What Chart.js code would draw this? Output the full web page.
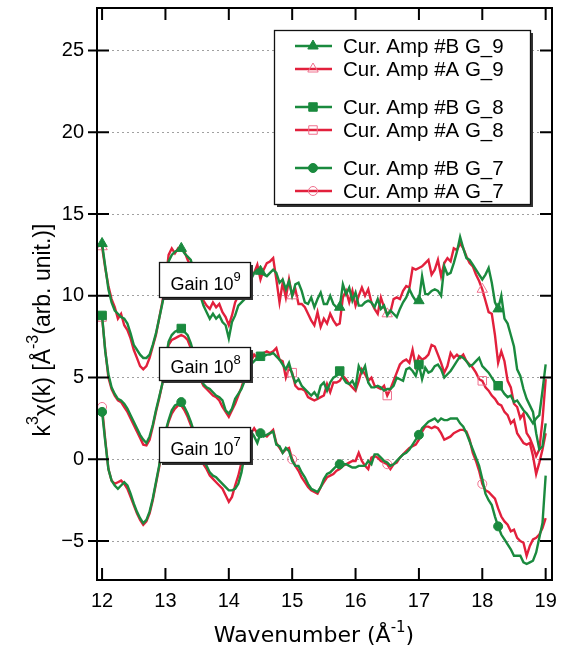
<!DOCTYPE html>
<html>
<head>
<meta charset="utf-8">
<script src="https://cdn.jsdelivr.net/npm/chart.js@4.4.0/dist/chart.umd.min.js"></script>
<style>
  html, body { margin: 0; padding: 0; background: #ffffff; }
</style>
</head>
<body>
<canvas id="chi" width="563" height="655"></canvas>
<script>
// wavenumber grid (1/A), 0.05 steps from 12 to 19
const kFirst = 12, kStep = 0.05, kCount = 141;
const kValues = [];
for (let i = 0; i < kCount; i++) kValues.push(+(kFirst + i * kStep).toFixed(2));

const xTickValues = [12, 13, 14, 15, 16, 17, 18, 19];
const yTickValues = [-5, 0, 5, 10, 15, 20, 25];

// k^3 chi(k)
const g9B = [
  13.2,11.8,10.4,9.6,9.1,8.9,8.7,8.6,8.3,7.7,7.0,6.7,6.4,6.2,6.2,6.4,7.0,7.7,8.6,9.5,
  10.5,12.1,12.5,12.7,12.8,12.9,12.6,12.4,12.2,11.5,10.8,10.0,9.4,9.0,8.6,8.9,8.6,8.8,8.4,8.2,
  7.4,8.4,8.8,9.4,9.6,9.8,10.6,11.0,11.4,11.6,11.5,11.3,11.2,11.4,11.6,11.4,10.8,11.0,10.4,10.9,
  10.0,10.7,10.8,10.3,9.6,9.5,9.9,9.3,9.8,10.2,9.5,9.5,10.0,9.5,9.3,9.3,10.7,10.1,10.5,9.7,
  10.2,9.4,9.4,9.6,9.7,9.6,9.3,9.8,9.2,9.4,8.8,9.1,8.9,8.7,9.2,9.6,9.9,10.4,10.0,9.7,
  9.7,11.2,10.1,10.1,10.3,10.4,10.3,10.0,11.8,11.3,11.4,12.0,12.7,13.6,12.9,12.3,12.2,11.9,11.6,11.3,
  11.0,11.3,11.7,10.8,9.6,9.2,10.0,8.6,8.3,7.6,6.9,5.5,5.1,4.3,3.7,3.3,2.9,1.6,0.6,0.8,
  2.2
];
const g9A = [
  13.0,11.7,10.6,9.8,9.3,8.6,8.9,8.2,7.9,7.4,6.7,6.2,5.7,5.5,5.7,6.2,6.9,7.6,8.6,9.6,
  10.8,12.5,12.9,12.6,12.9,12.8,12.7,12.2,11.8,11.2,10.6,10.0,9.7,9.4,9.2,9.6,9.3,9.5,9.0,8.7,
  8.2,8.8,9.6,10.0,10.2,10.8,11.0,11.3,11.4,11.9,11.0,11.6,12.0,12.1,12.3,11.0,9.6,10.8,9.9,11.0,
  10.0,10.4,9.5,9.5,9.3,8.9,8.5,8.2,9.0,8.1,8.6,8.3,8.9,8.5,8.2,8.3,9.9,10.3,9.6,10.3,
  9.4,10.0,10.5,10.0,10.4,9.6,9.2,8.9,9.9,9.3,8.9,9.0,9.8,9.9,9.8,10.3,10.6,10.5,11.7,11.6,
  11.7,11.8,12.0,12.2,11.3,11.6,12.2,11.2,12.0,12.3,12.1,12.9,12.8,13.2,12.9,12.4,12.0,11.8,11.3,10.9,
  10.4,9.7,9.0,8.9,7.6,5.9,6.6,6.0,4.8,4.4,3.4,3.2,2.5,2.8,1.6,1.3,0.8,0.2,0.6,2.4,
  4.9
];
const g8B = [
  8.8,6.6,5.2,4.4,4.0,3.7,3.6,3.4,3.1,2.7,2.3,1.9,1.5,1.2,1.0,1.4,2.1,3.0,3.8,4.6,
  6.0,7.2,7.6,7.8,7.9,8.0,7.8,7.6,7.1,6.4,5.7,5.0,4.6,4.4,4.3,4.1,3.9,3.8,3.6,3.0,
  2.8,3.1,3.7,4.0,4.3,4.8,5.5,5.8,6.0,6.2,6.3,6.3,6.4,6.4,6.5,6.3,6.1,5.8,5.5,5.9,
  5.2,4.7,4.9,4.5,4.3,4.1,3.9,4.1,3.8,4.5,4.7,4.2,4.7,5.0,5.1,5.4,5.0,4.7,4.6,4.8,
  4.4,5.7,5.3,5.7,4.7,4.4,4.4,4.5,4.4,4.2,4.3,4.3,4.5,5.0,4.9,4.8,5.5,5.6,5.4,5.1,
  5.8,4.9,5.6,5.3,5.4,5.7,5.8,5.5,5.0,5.2,5.4,5.7,6.0,6.3,6.2,6.0,5.7,5.8,6.0,6.2,
  5.7,5.5,5.3,5.0,4.7,4.5,4.3,4.0,3.8,3.9,3.5,3.6,3.3,3.0,2.8,2.5,2.2,2.5,2.7,4.2,
  5.8
];
const g8A = [
  8.7,6.7,5.0,4.3,3.9,3.6,3.5,3.2,2.9,2.5,2.1,1.7,1.3,0.9,0.85,1.2,2.0,2.9,3.7,4.6,
  6.0,7.0,7.3,7.4,7.5,7.6,7.5,7.3,6.8,6.2,5.5,4.9,4.5,4.3,4.1,3.9,3.8,3.6,3.2,2.9,
  2.6,3.0,3.4,3.9,4.4,5.0,5.6,6.0,6.4,6.2,6.4,6.5,6.6,6.5,6.6,6.8,6.1,6.0,5.0,5.6,
  5.3,4.5,4.3,4.3,4.2,3.8,3.7,3.6,3.7,3.8,3.9,4.6,4.1,4.7,4.7,4.8,5.1,4.9,4.6,4.4,
  4.2,4.8,5.5,5.2,4.8,5.0,4.5,4.4,4.3,4.5,3.9,4.3,4.8,5.3,5.8,6.0,6.1,5.9,6.7,5.7,
  6.3,6.1,6.2,6.4,7.0,6.9,6.4,5.9,5.3,5.7,6.5,6.2,6.4,6.2,6.4,6.0,5.8,5.6,5.3,4.9,
  4.8,4.4,4.2,3.9,3.7,3.4,3.3,2.9,2.7,2.2,2.4,1.6,1.3,1.0,0.9,1.0,0.2,-0.9,-0.2,0.6,
  1.6
];
const g7B = [
  2.9,1.1,-0.6,-1.3,-1.6,-1.8,-1.6,-1.4,-1.6,-2.1,-2.7,-3.2,-3.6,-3.9,-3.7,-3.2,-2.4,-1.4,-0.4,0.8,
  1.7,2.4,3.0,3.3,3.4,3.5,3.2,2.8,2.3,1.7,1.0,0.4,-0.1,-0.4,-0.8,-1.0,-1.1,-1.3,-1.5,-1.7,
  -1.9,-1.9,-1.8,-1.5,-0.8,0.3,1.3,1.7,1.4,1.0,1.6,1.4,1.5,1.6,1.7,0.9,0.8,0.4,0.7,0.5,
  -0.1,-0.4,-0.4,-0.8,-1.1,-1.5,-1.8,-1.9,-2.0,-1.7,-1.2,-0.9,-0.8,-0.6,-0.4,-0.3,-0.3,-0.3,-0.4,-0.5,
  -0.5,-0.4,-0.4,-0.4,-0.1,-0.3,0.3,0.3,0.1,-0.1,-0.2,-0.4,-0.3,-0.1,0.1,0.3,0.4,0.6,0.9,1.2,
  1.5,1.9,2.1,2.3,2.4,2.5,2.3,2.5,2.4,2.4,2.5,2.5,2.5,2.2,2.0,1.6,1.1,0.6,0.1,-0.4,
  -1.2,-2.1,-2.5,-2.8,-3.5,-4.1,-4.6,-4.9,-5.2,-5.5,-5.9,-5.9,-5.9,-6.3,-6.4,-6.3,-6.2,-5.7,-4.8,-3.9,
  -1.0
];
const g7A = [
  3.2,1.2,-0.6,-1.3,-1.5,-1.4,-1.3,-1.5,-1.8,-2.3,-2.8,-3.3,-3.7,-4.0,-3.8,-3.3,-2.5,-1.5,-0.5,0.7,
  1.6,2.3,2.8,3.1,3.3,3.3,3.0,2.6,2.1,1.5,0.9,0.3,-0.3,-0.6,-1.0,-1.2,-1.4,-1.6,-1.8,-2.2,
  -2.6,-2.3,-1.6,-1.0,-0.2,0.6,1.2,1.6,1.9,1.6,1.7,1.5,1.4,1.6,1.8,1.0,0.7,0.4,0.6,0.7,
  0.0,-0.4,-0.7,-1.1,-1.4,-1.7,-1.9,-2.0,-2.1,-1.7,-1.4,-1.1,-1.0,-0.9,-0.7,-0.6,-0.4,-0.3,-0.2,-0.1,
  -0.1,0.4,-0.1,-0.4,-0.6,0.1,0.2,0.1,-0.1,-0.2,-0.3,-0.6,-0.3,-0.2,0.1,0.3,0.5,0.7,0.8,0.9,
  1.2,1.7,2.0,2.0,1.9,2.0,1.9,1.6,1.2,1.3,1.4,1.6,1.7,1.8,1.8,1.7,1.2,0.4,-0.1,-0.7,
  -1.5,-1.9,-2.0,-2.2,-2.4,-3.0,-3.5,-3.8,-4.0,-4.4,-4.3,-4.8,-5.0,-5.1,-5.9,-5.3,-4.9,-4.8,-4.6,-4.2,
  -3.6
];

// where the markers sit on each trace
const markB = [12, 13.25, 14.5, 15.75, 17, 18.25];
const markA = [12, 13.5, 15, 16.5, 18];

const GREEN = '#1a8a3e';
const RED = '#e2203c';
const PINK = '#f0708e';

function toPoints(values) {
  return values.map((v, i) => ({ x: kValues[i], y: v }));
}

function trace(label, values, style, filled) {
  const marks = filled ? markB : markA;
  const size = style === 'circle' ? 4.5 : 6;
  return {
    label: label,
    data: toPoints(values),
    borderColor: filled ? GREEN : RED,
    borderWidth: 2.4,
    tension: 0,
    pointStyle: style,
    pointRadius: c => marks.includes(kValues[c.dataIndex]) ? size : 0,
    pointHoverRadius: 0,
    pointBackgroundColor: filled ? GREEN : 'rgba(255,255,255,0)',
    pointBorderColor: filled ? GREEN : PINK,
    pointBorderWidth: 1
  };
}

// green traces first so they end up on top
const datasets = [
  trace('Cur. Amp #B G_9', g9B, 'triangle', true),
  trace('Cur. Amp #B G_8', g8B, 'rect', true),
  trace('Cur. Amp #B G_7', g7B, 'circle', true),
  trace('Cur. Amp #A G_9', g9A, 'triangle', false),
  trace('Cur. Amp #A G_8', g8A, 'rect', false),
  trace('Cur. Amp #A G_7', g7A, 'circle', false)
];

// legend order (dataset indices)
const legendRows = [0, 3, 1, 4, 2, 5];

const gainBoxes = [
  { exp: '9', k0: 12.9, k1: 14.335, top: 12.07, bottom: 9.93 },
  { exp: '8', k0: 12.9, k1: 14.335, top: 6.87, bottom: 4.85 },
  { exp: '7', k0: 12.9, k1: 14.335, top: 1.98, bottom: -0.17 }
];

function richText(ctx, parts, x, y, align) {
  let w = 0;
  parts.forEach(p => { ctx.font = p.font; w += ctx.measureText(p.t).width; });
  let cx = align === 'center' ? x - w / 2 : x;
  ctx.textAlign = 'left';
  ctx.textBaseline = 'alphabetic';
  parts.forEach(p => {
    ctx.font = p.font;
    ctx.fillText(p.t, cx, y - (p.rise || 0));
    cx += ctx.measureText(p.t).width;
  });
}

function shadowBox(ctx, l, t, w, h) {
  ctx.fillStyle = '#333';
  ctx.fillRect(l + 2.5, t + 2.5, w, h);
  ctx.fillStyle = '#fff';
  ctx.fillRect(l, t, w, h);
  ctx.strokeStyle = '#111';
  ctx.lineWidth = 1.3;
  ctx.strokeRect(l, t, w, h);
}

const decorations = {
  id: 'decorations',
  afterDatasetsDraw(chart) {
    const { ctx, scales: { x, y } } = chart;
    ctx.save();
    gainBoxes.forEach(b => {
      const l = Math.round(x.getPixelForValue(b.k0)) + 0.5;
      const r = Math.round(x.getPixelForValue(b.k1)) + 0.5;
      const t = Math.round(y.getPixelForValue(b.top)) + 0.5;
      const bt = Math.round(y.getPixelForValue(b.bottom)) + 0.5;
      shadowBox(ctx, l, t, r - l, bt - t);
      ctx.fillStyle = '#000';
      richText(ctx, [
        { t: 'Gain 10', font: '18px "Liberation Sans", Arial, sans-serif' },
        { t: b.exp, font: '13px "Liberation Sans", Arial, sans-serif', rise: 9 }
      ], l + 11, bt - 8, 'left');
    });
    ctx.restore();
  },
  afterDraw(chart) {
    const { ctx, chartArea: a, scales: { x, y } } = chart;
    ctx.save();
    ctx.strokeStyle = '#000';
    ctx.lineWidth = 2;
    ctx.beginPath();
    xTickValues.forEach(v => {
      const px = x.getPixelForValue(v);
      ctx.moveTo(px, a.bottom); ctx.lineTo(px, a.bottom - 12);
      ctx.moveTo(px, a.top); ctx.lineTo(px, a.top + 12);
    });
    yTickValues.forEach(v => {
      const py = y.getPixelForValue(v);
      ctx.moveTo(a.left - 9, py); ctx.lineTo(a.left + 12, py);
      ctx.moveTo(a.right, py); ctx.lineTo(a.right - 12, py);
    });
    ctx.stroke();
    ctx.strokeRect(a.left, a.top, a.right - a.left, a.bottom - a.top);

    // legend
    const lx = 274.5, ly = 30.5, lw = 256, lh = 174;
    shadowBox(ctx, lx, ly, lw, lh);
    const rowY = [46, 69, 107, 130, 168, 191];
    legendRows.forEach((di, i) => {
      const ds = chart.data.datasets[di];
      const yy = rowY[i];
      ctx.strokeStyle = ds.borderColor;
      ctx.lineWidth = 2.4;
      ctx.beginPath();
      ctx.moveTo(295, yy); ctx.lineTo(332, yy);
      ctx.stroke();
      ctx.fillStyle = ds.pointBackgroundColor;
      ctx.strokeStyle = ds.pointBorderColor;
      ctx.lineWidth = 1;
      const r = ds.pointStyle === 'circle' ? 4.5 : 6;
      Chart.helpers.drawPoint(ctx, { pointStyle: ds.pointStyle, radius: r, rotation: 0, borderWidth: 1 }, 313, yy);
      ctx.fillStyle = '#000';
      ctx.font = '20.5px "Liberation Sans", Arial, sans-serif';
      ctx.textAlign = 'left';
      ctx.textBaseline = 'middle';
      ctx.fillText(ds.label, 343, yy + 1);
    });

    // axis titles
    ctx.fillStyle = '#000';
    const tf = '22px "DejaVu Sans", sans-serif';
    const sf = '15px "DejaVu Sans", sans-serif';
    richText(ctx, [
      { t: 'Wavenumber (Å', font: tf },
      { t: '-1', font: sf, rise: 10 },
      { t: ')', font: tf }
    ], 314, 642, 'center');

    ctx.translate(50, 330);
    ctx.rotate(-Math.PI / 2);
    const yf = '23px "Liberation Sans", Arial, sans-serif';
    const ys = '16px "Liberation Sans", Arial, sans-serif';
    richText(ctx, [
      { t: 'k', font: yf },
      { t: '3', font: ys, rise: 12 },
      { t: 'χ(k) [Å', font: yf },
      { t: '-3', font: ys, rise: 12 },
      { t: '(arb. unit.)]', font: yf }
    ], 0, 0, 'center');
    ctx.restore();
  }
};

new Chart(document.getElementById('chi').getContext('2d'), {
  type: 'line',
  data: { datasets: datasets },
  options: {
    responsive: false,
    animation: false,
    devicePixelRatio: 1,
    layout: { padding: { top: 8, right: 11, left: 0, bottom: 0 } },
    plugins: { legend: { display: false }, tooltip: { enabled: false } },
    scales: {
      x: {
        type: 'linear',
        min: 11.92,
        max: 19.1,
        afterBuildTicks: s => { s.ticks = xTickValues.map(v => ({ value: v })); },
        afterFit: s => { s.height = 75; s.paddingLeft = 0; s.paddingRight = 0; },
        grid: { display: false, drawTicks: false },
        border: { display: false },
        ticks: {
          padding: 9,
          color: '#000',
          font: { family: '"Liberation Sans", Arial, sans-serif', size: 20 },
          maxRotation: 0
        }
      },
      y: {
        type: 'linear',
        min: -7.38,
        max: 27.6,
        afterBuildTicks: s => { s.ticks = yTickValues.map(v => ({ value: v })); },
        afterFit: s => { s.width = 97; s.paddingTop = 0; s.paddingBottom = 0; },
        grid: { color: '#a0a0a0', lineWidth: 1, drawTicks: false },
        border: { display: false, dash: [2, 3] },
        ticks: {
          padding: 13,
          color: '#000',
          font: { family: '"Liberation Sans", Arial, sans-serif', size: 20 },
          callback: v => String(v).replace('-', '\u2212')
        }
      }
    }
  },
  plugins: [decorations]
});
</script>
</body>
</html>
